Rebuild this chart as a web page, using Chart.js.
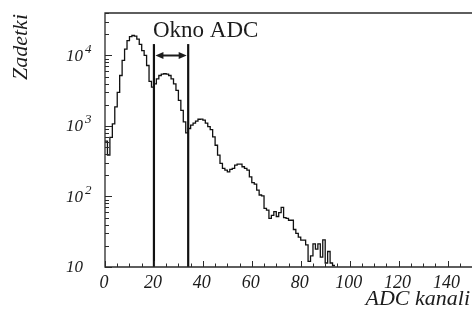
<!DOCTYPE html>
<html>
<head>
<meta charset="utf-8">
<script src="https://cdn.jsdelivr.net/npm/chart.js@4.4.1/dist/chart.umd.min.js"></script>
<style>
  html, body { margin: 0; padding: 0; background: #fff; }
  #wrap { width: 472px; height: 309px; }
</style>
</head>
<body>
<div id="wrap"><canvas id="hist"></canvas></div>
<script>
// counts per ADC channel (bin width 1), channels 0..94
const counts = [
  600, 610, 385, 690, 1070, 1860, 3000, 5200, 8500, 12300,
  16200, 18500, 19200, 18800, 17000, 14400, 11700, 10000, 7200, 4300,
  3550, 3950, 4660, 5200, 5430, 5500, 5430, 5200, 4660, 3960,
  3190, 2300, 1660, 1140, 800, 920, 1025, 1095, 1170, 1245,
  1250, 1210, 1095, 980, 890, 700, 533, 385, 294, 250,
  237, 224, 242, 250, 279, 288, 288, 264, 250, 237,
  190, 157, 150, 123, 105, 102, 68, 64, 49, 54,
  61, 52, 59, 70, 50, 49, 46, 46, 34, 30,
  26.5, 24, 24, 20.6, 12, 14.4, 21.3, 17.9, 21.3, 13.8,
  24.3, 11.4, 16.6, 11.4, 10.5
];
const windowEdges = [20, 34];
const windowTop = 14500;
const arrowLevel = 10200;
const xTicks = [0, 20, 40, 60, 80, 100, 120, 140];
const yTicks = [10, 100, 1000, 10000];
const yExponents = ['', '2', '3', '4'];
const xMax = 150;
const yMin = 10, yMax = 40000;

const SERIF = '"Liberation Serif", "DejaVu Serif", serif';
const INK = '#1c1c1c';

function histPoints(){
  const pts = [{x: 0, y: 0}];
  counts.forEach((v, i) => pts.push({x: i, y: v}));
  pts.push({x: counts.length, y: 0});
  return pts;
}

const frameAndLabels = {
  id: 'frameAndLabels',
  afterDatasetsDraw(chart){
    const {ctx, chartArea: {top, bottom, left, right}, scales: {x, y}} = chart;
    ctx.save();
    ctx.strokeStyle = '#2a2a2a';
    ctx.lineWidth = 1.3;
    ctx.beginPath();
    ctx.moveTo(right + 1, top);
    ctx.lineTo(left, top);
    ctx.lineTo(left, bottom);
    ctx.lineTo(right + 1, bottom);
    ctx.stroke();

    // x ticks, minor every 5
    ctx.lineWidth = 1;
    ctx.beginPath();
    for (let v = 0; v <= xMax; v += 5){
      const px = Math.round(x.getPixelForValue(v)) + 0.5;
      const len = v % 20 === 0 ? 6 : 3.5;
      ctx.moveTo(px, bottom);
      ctx.lineTo(px, bottom - len);
    }
    // y ticks, log minors
    for (let d = 10; d <= yMax; d *= 10){
      for (let m = 1; m <= 9; m++){
        const v = d * m;
        if (v > yMax) break;
        const py = Math.round(y.getPixelForValue(v)) + 0.5;
        const len = m === 1 ? 7 : 4;
        ctx.moveTo(left, py);
        ctx.lineTo(left + len, py);
      }
    }
    ctx.stroke();

    // tick labels
    ctx.fillStyle = INK;
    ctx.font = 'italic 18px ' + SERIF;
    ctx.textAlign = 'center';
    ctx.textBaseline = 'top';
    xTicks.forEach(v => ctx.fillText(String(v), x.getPixelForValue(v) - 1, bottom + 7));

    yTicks.forEach((v, i) => {
      const py = y.getPixelForValue(v);
      ctx.font = 'italic 17px ' + SERIF;
      ctx.textAlign = 'right';
      ctx.textBaseline = 'middle';
      ctx.fillText('10', left - 22, py + 1);
      if (yExponents[i]){
        ctx.font = 'italic 13px ' + SERIF;
        ctx.textAlign = 'left';
        ctx.fillText(yExponents[i], left - 20, py - 6);
      }
    });

    // axis titles
    ctx.font = 'italic 22px ' + SERIF;
    ctx.textAlign = 'right';
    ctx.textBaseline = 'alphabetic';
    ctx.fillText('ADC kanali', 470, 305);

    ctx.save();
    ctx.translate(27, 47);
    ctx.rotate(-Math.PI / 2);
    ctx.textAlign = 'center';
    ctx.fillText('Zadetki', 0, 0);
    ctx.restore();

    // ADC window arrow
    const x1 = x.getPixelForValue(windowEdges[0]) + 1.5;
    const x2 = x.getPixelForValue(windowEdges[1]) - 1.5;
    const ay = Math.round(y.getPixelForValue(arrowLevel)) + 0.5;
    ctx.strokeStyle = INK;
    ctx.lineWidth = 2;
    ctx.beginPath();
    ctx.moveTo(x1 + 5, ay);
    ctx.lineTo(x2 - 5, ay);
    ctx.stroke();
    ctx.beginPath();
    ctx.moveTo(x1, ay);
    ctx.lineTo(x1 + 8, ay - 3.5);
    ctx.lineTo(x1 + 8, ay + 3.5);
    ctx.closePath();
    ctx.moveTo(x2, ay);
    ctx.lineTo(x2 - 8, ay - 3.5);
    ctx.lineTo(x2 - 8, ay + 3.5);
    ctx.closePath();
    ctx.fill();

    ctx.font = '23px ' + SERIF;
    ctx.textAlign = 'left';
    ctx.textBaseline = 'alphabetic';
    ctx.fillText('Okno ADC', x.getPixelForValue(windowEdges[0]) - 1, top + 24);
    ctx.restore();
  }
};

const windowLines = windowEdges.map(e => ({
  data: [{x: e, y: yMin}, {x: e, y: windowTop}],
  borderColor: '#111',
  borderWidth: 2.2,
  pointRadius: 0,
  fill: false
}));

const config = {
  type: 'line',
  data: {
    datasets: [
      {
        label: 'Zadetki',
        data: histPoints(),
        stepped: 'after',
        borderColor: '#111',
        borderWidth: 1.3,
        pointRadius: 0,
        fill: false
      },
      ...windowLines
    ]
  },
  options: {
    responsive: true,
    maintainAspectRatio: false,
    animation: false,
    layout: { padding: { left: 105, right: 0, top: 13, bottom: 42 } },
    scales: {
      x: { type: 'linear', min: 0, max: xMax, display: false },
      y: { type: 'logarithmic', min: yMin, max: yMax, display: false }
    },
    plugins: {
      legend: { display: false },
      tooltip: { enabled: false }
    }
  },
  plugins: [frameAndLabels]
};

new Chart(document.getElementById('hist'), config);
</script>
</body>
</html>
